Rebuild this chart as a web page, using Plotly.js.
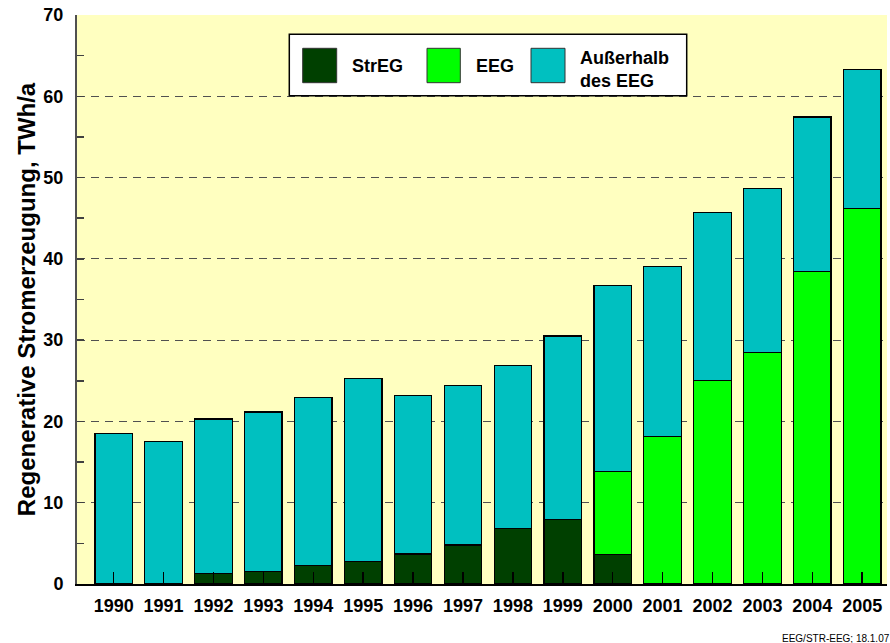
<!DOCTYPE html>
<html>
<head>
<meta charset="utf-8">
<script src="https://cdn.plot.ly/plotly-3.0.1.min.js"></script>
<style>html,body{margin:0;padding:0;background:#fff}#chart{width:890px;height:643px}</style>
</head>
<body>
<div id="chart"></div>
<script>
// ---- data (TWh/a) ----
const years = ["1990","1991","1992","1993","1994","1995","1996","1997","1998","1999","2000","2001","2002","2003","2004","2005"];
const strEG = [null, 0.1, 1.3, 1.55, 2.3, 2.8, 3.7, 4.8, 6.8, 7.9, 3.6, null, null, null, null, null];
const eeg = [null, null, null, null, null, null, null, null, null, null, 10.2, 18.15, 25.0, 28.45, 38.4, 46.2];
const ausserhalb = [18.5, 17.4, 19.0, 19.6, 20.6, 22.5, 19.45, 19.6, 20.05, 22.6, 22.9, 20.9, 20.75, 20.25, 19.05, 17.1];
const seriesNames = ["StrEG", "EEG", "Außerhalb", "des EEG"];
const yTitle = "Regenerative Stromerzeugung, TWh/a";
const footer = "EEG/STR-EEG; 18.1.07";

// ---- styling ----
const colors = {str: "#004000", eeg: "#00FF00", aus: "#00C0C0"};
const FONT = "Liberation Sans, Arial, Helvetica, sans-serif";
const W = 890, H = 643;
const M = {l: 77, r: 3, t: 15, b: 59};
const PW = W - M.l - M.r, PH = H - M.t - M.b;
const px = x => (x - M.l) / PW;
const py = y => (H - M.b - y) / PH;

const barLine = {color: "#000000", width: 1.2};
const traces = [
  {type: "bar", x: years, y: strEG, name: seriesNames[0], marker: {color: colors.str, line: barLine}, width: 0.75},
  {type: "bar", x: years, y: eeg, name: seriesNames[1], marker: {color: colors.eeg, line: barLine}, width: 0.75},
  {type: "bar", x: years, y: ausserhalb, name: seriesNames[2] + " " + seriesNames[3], marker: {color: colors.aus, line: barLine}, width: 0.75}
];

// legend (custom, large swatches)
const legBox = {x0: 289.3, x1: 686.7, y0: 34.3, y1: 95.7};
const sw = [[302.7, 336.7], [427, 460.3], [531, 565]];
const swY = [48.3, 82.7];
const swCol = [colors.str, colors.eeg, colors.aus];
const shapes = [{
  type: "rect", xref: "paper", yref: "paper",
  x0: px(legBox.x0), x1: px(legBox.x1), y0: py(legBox.y1), y1: py(legBox.y0),
  fillcolor: "#FFFFFF", line: {color: "#000000", width: 1.5}, layer: "above"
}];
sw.forEach((s, i) => shapes.push({
  type: "rect", xref: "paper", yref: "paper",
  x0: px(s[0]), x1: px(s[1]), y0: py(swY[1]), y1: py(swY[0]),
  fillcolor: swCol[i], line: {color: "#333333", width: 1}, layer: "above"
}));
const legFont = {family: FONT, size: 18, color: "#000000", weight: "bold"};
const annotations = [
  {text: seriesNames[0], x: px(350), y: py(66), xref: "paper", yref: "paper", xanchor: "left", yanchor: "middle", showarrow: false, font: legFont},
  {text: seriesNames[1], x: px(474.3), y: py(66), xref: "paper", yref: "paper", xanchor: "left", yanchor: "middle", showarrow: false, font: legFont},
  {text: seriesNames[2] + "<br>" + seriesNames[3], x: px(577.7), y: py(69.5), xref: "paper", yref: "paper", xanchor: "left", yanchor: "middle", align: "left", showarrow: false, font: legFont},
  {text: footer, x: px(892), y: py(638), xref: "paper", yref: "paper", xanchor: "right", yanchor: "middle", showarrow: false,
   font: {family: FONT, size: 10, color: "#000000", weight: "normal"}}
];

const layout = {
  width: W, height: H,
  margin: M,
  paper_bgcolor: "#FFFFFF",
  plot_bgcolor: "#FFFFC0",
  barmode: "stack",
  showlegend: false,
  font: {family: FONT, size: 18, color: "#000000", weight: "bold"},
  xaxis: {
    type: "category",
    range: [-0.735, 15.497],
    showgrid: false, zeroline: false,
    showline: true, linecolor: "#000000", linewidth: 2,
    ticks: "inside", ticklen: 12, tickwidth: 1.5, tickcolor: "#000000",
    tickfont: {family: FONT, size: 18, color: "#000000", weight: "bold"},
    ticklabelstandoff: 4,
    fixedrange: true
  },
  yaxis: {
    range: [0, 70], dtick: 10, tick0: 0,
    showgrid: true, gridcolor: "#505050", gridwidth: 1, griddash: "8px,6px",
    zeroline: false,
    showline: true, linecolor: "#505050", linewidth: 2,
    ticks: "inside", ticklen: 7, tickwidth: 1.5, tickcolor: "#404040",
    minor: {dtick: 5, ticks: "inside", ticklen: 7, tickwidth: 1.5, tickcolor: "#404040", showgrid: false},
    tickfont: {family: FONT, size: 18, color: "#000000", weight: "bold"},
    ticklabelstandoff: 8,
    title: {text: yTitle, font: {family: FONT, size: 24, color: "#000000", weight: "bold"}, standoff: 1},
    fixedrange: true
  },
  shapes: shapes,
  annotations: annotations
};

Plotly.newPlot("chart", traces, layout, {displayModeBar: false, staticPlot: true});
</script>
</body>
</html>
